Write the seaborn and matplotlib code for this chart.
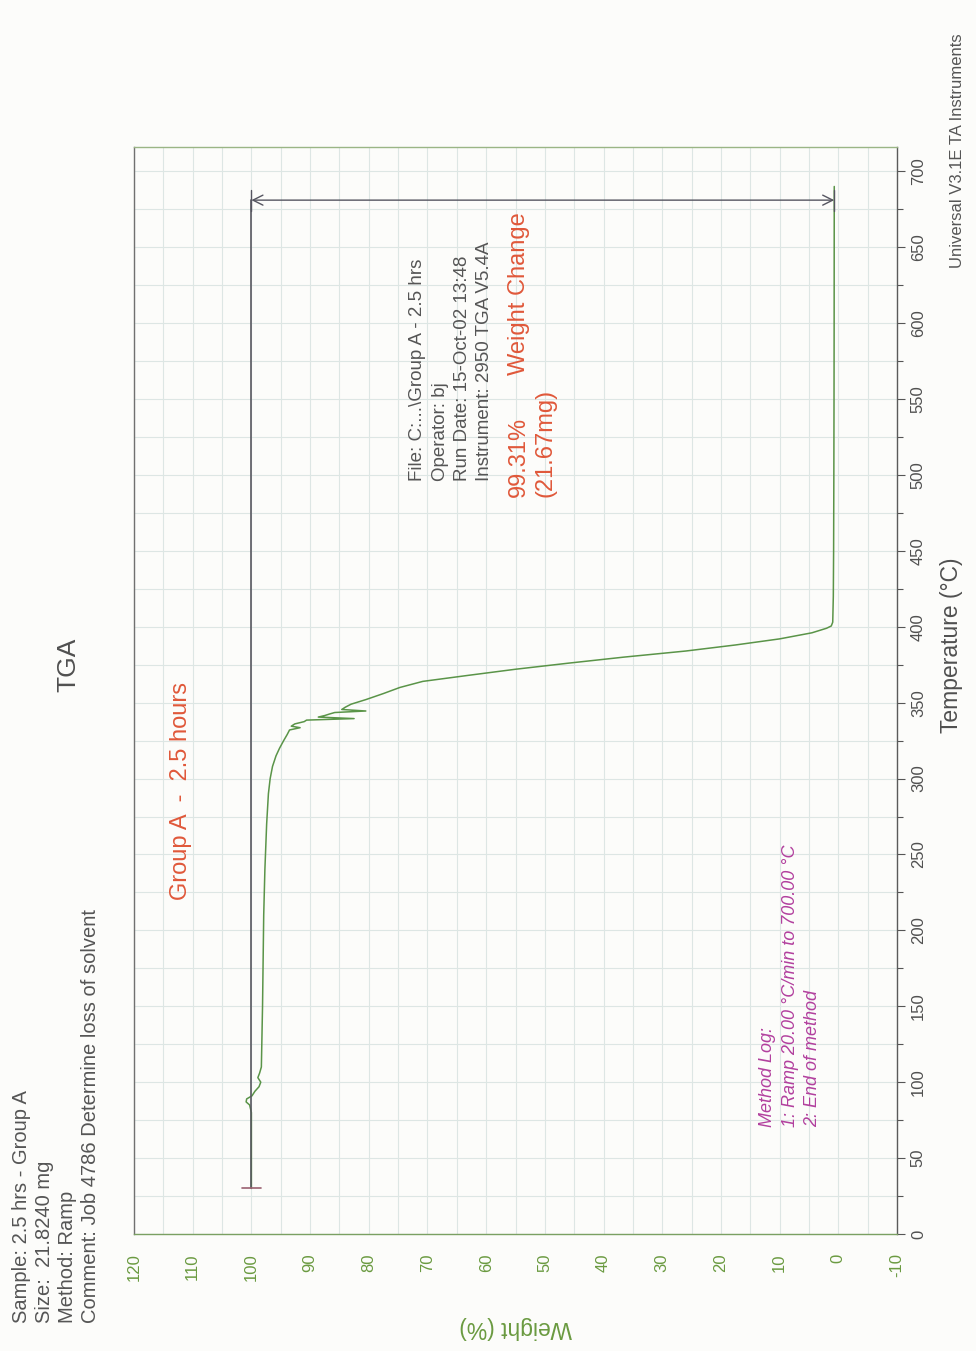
import matplotlib
matplotlib.use("Agg")
import matplotlib.pyplot as plt
import seaborn as sns
import pandas as pd
from matplotlib.ticker import MultipleLocator

# ---------------- data ----------------
temp_c = [30, 50, 70, 80, 85, 87, 89, 91, 94, 97,
          100, 103, 106, 110, 130, 150, 180, 210, 240, 270,
          290, 300, 308, 315, 320, 325, 329, 332, 333.5, 334.5,
          336, 337.5, 338.5, 339.5, 340.5, 341.5, 342.5, 343.5, 344.5, 345.5,
          347, 349, 352, 356, 360, 364, 368, 372, 376, 380,
          384, 388, 392, 396, 399, 400.5, 403, 420, 450, 500,
          550, 600, 650, 690]
weight_pct = [100.0, 100.0, 100.0, 100.0, 100.3, 100.9, 100.8, 99.9, 99.4, 98.7,
              98.4, 98.9, 98.6, 98.3, 98.2, 98.1, 98.0, 97.9, 97.7, 97.4,
              97.1, 96.8, 96.4, 95.8, 95.2, 94.5, 93.9, 93.5, 91.7, 93.2,
              92.6, 91.0, 90.6, 82.5, 88.6, 87.5, 86.7, 85.8, 80.5, 84.6,
              84.0, 83.0, 80.5, 77.5, 74.7, 70.8, 63.0, 55.0, 46.0, 36.5,
              26.0, 17.5, 10.0, 4.5, 2.0, 1.2, 0.95, 0.85, 0.8, 0.76,
              0.73, 0.71, 0.70, 0.69]

weight_ticks = list(range(-10, 121, 10))
temp_ticks = list(range(0, 701, 50))

start_temp = 30
start_weight = 100.0
end_weight = 0.69
change_temp = 681
weight_change_pct = "99.31%"
weight_change_mg = "(21.67mg)"

header_left = ["Sample: 2.5 hrs - Group A",
               "Size:  21.8240 mg",
               "Method: Ramp",
               "Comment: Job 4786 Determine loss of solvent"]
header_right = ["File: C:...\\Group A - 2.5 hrs",
                "Operator: bj",
                "Run Date: 15-Oct-02 13:48",
                "Instrument: 2950 TGA V5.4A"]
method_log = ["Method Log:",
              "1: Ramp 20.00 \u00b0C/min to 700.00 \u00b0C",
              "2: End of method"]

# ---------------- style ----------------
sns.set_style("white")
plt.rcParams["font.family"] = ["Liberation Sans", "DejaVu Sans"]

W, H = 976, 1351
fig = plt.figure(figsize=(W / 100, H / 100), dpi=100, facecolor="#fcfcfa")

def fx(px):
    return px / W

def fy(py):
    return 1 - py / H

ax_l, ax_r, ax_t, ax_b = 134, 897, 147, 1234
ax = fig.add_axes([fx(ax_l), fy(ax_b), (ax_r - ax_l) / W, (ax_b - ax_t) / H])
ax.set_facecolor("#fcfcfa")

df = pd.DataFrame({"Temperature": temp_c, "Weight": weight_pct})
sns.lineplot(data=df, x="Weight", y="Temperature", sort=False, estimator=None,
             color="#5a9448", lw=1.1, ax=ax)

ax.set_xlim(120, -10)
ax.set_ylim(0, 716)

ax.xaxis.set_minor_locator(MultipleLocator(5))
ax.yaxis.set_minor_locator(MultipleLocator(25))
ax.set_xticks(weight_ticks)
ax.set_yticks(temp_ticks)
ax.set_xticklabels([str(v) for v in weight_ticks])
ax.set_yticklabels([str(v) for v in temp_ticks])

ax.grid(which="both", color="#dde6e4", lw=0.8)
ax.set_axisbelow(True)

ax.yaxis.tick_right()
ax.tick_params(axis="x", which="major", direction="inout", length=8, width=0.8,
               color="#6f9a55", labelcolor="#6a9a40", labelsize=12,
               labelrotation=90, pad=10)
ax.tick_params(axis="x", which="minor", direction="inout", length=5, width=0.8,
               color="#6f9a55")
ax.tick_params(axis="y", which="major", direction="out", length=6, width=0.8,
               color="#555555", labelcolor="#505050", labelsize=12,
               labelrotation=90, pad=4, left=False, right=True)
ax.tick_params(axis="y", which="minor", direction="out", length=4, width=0.8,
               color="#555555", left=False, right=True)
for lab in ax.get_yticklabels():
    lab.set_va("center")

ax.spines["left"].set_color("#707070")
ax.spines["right"].set_color("#5a5a5a")
ax.spines["bottom"].set_color("#7aa062")
ax.spines["top"].set_color("#9ab585")
for s in ax.spines.values():
    s.set_linewidth(1.0)

ax.set_xlabel("Weight (%)", rotation=180, fontsize=16.5, color="#6a9a40",
              va="center", ha="center")
ax.xaxis.set_label_coords(0.5, -0.086)
ax.set_ylabel("Temperature (\u00b0C)", rotation=90, fontsize=16.5, color="#505050",
              va="center", ha="center")
ax.yaxis.set_label_position("right")
ax.yaxis.set_label_coords(1.057, 0.542)

# weight change construction
ax.plot([start_weight, start_weight], [start_temp, change_temp], color="#585860", lw=1.2)
ax.plot([start_weight + 1.6, start_weight - 1.6], [start_temp, start_temp],
        color="#9a6070", lw=1.2)
ax.annotate("", xy=(end_weight, change_temp), xytext=(start_weight, change_temp),
            arrowprops=dict(arrowstyle="<->", color="#555560", lw=1.0,
                            mutation_scale=18, shrinkA=0, shrinkB=0))
ax.plot([end_weight, end_weight], [change_temp - 7, change_temp + 7], color="#555560", lw=1.0)
ax.plot([start_weight, start_weight], [change_temp - 7, change_temp + 7], color="#555560", lw=1.0)

def ftext(px, py, s, **kw):
    fig.text(fx(px), fy(py), s, rotation=90, **kw)

red = "#e0583a"
ftext(519, 497, weight_change_pct, ha="center", va="bottom", fontsize=17, color=red)
ftext(519, 375, "Weight Change", ha="center", va="bottom", fontsize=17, color=red)
ftext(545, 497, weight_change_mg, ha="center", va="bottom", fontsize=17, color=red)
ftext(181, 900, "Group A  -  2.5 hours", ha="center", va="bottom", fontsize=17, color=red)

magenta = "#b2409e"
for i, line in enumerate(method_log):
    ftext(768 + i * 22.5, 1127, line, ha="center", va="bottom", fontsize=13,
          color=magenta, style="italic")

# headers
gray = "#555555"
for i, line in enumerate(header_left):
    ftext(22 + i * 22.7, 1323, line, ha="center", va="bottom", fontsize=14.5, color=gray)
for i, line in enumerate(header_right):
    ftext(418 + i * 22.3, 481, line, ha="center", va="bottom", fontsize=13.5, color=gray)

ftext(68, 665, "TGA", ha="center", va="center", fontsize=19, color="#505050")
ftext(958, 268, "Universal V3.1E TA Instruments", ha="center", va="bottom",
      fontsize=12, color=gray)

fig.savefig("out.png", dpi=100, facecolor=fig.get_facecolor())
